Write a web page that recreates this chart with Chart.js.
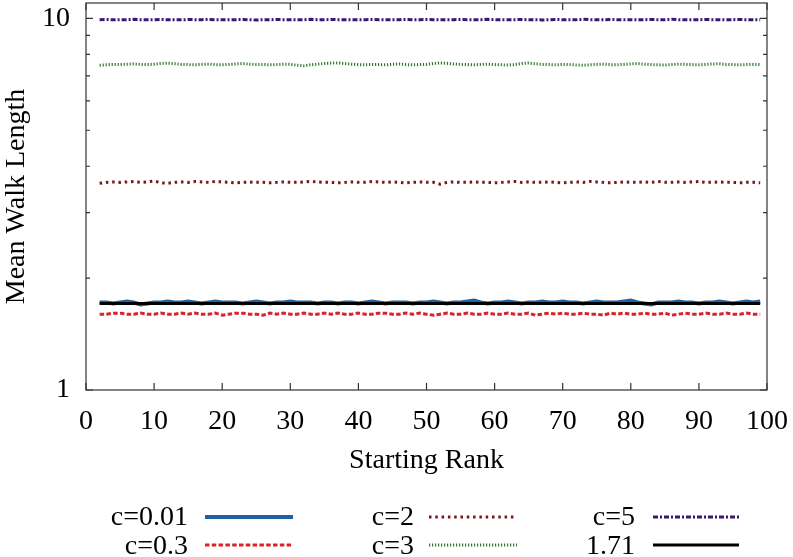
<!DOCTYPE html>
<html lang="en">
<head>
    <meta charset="UTF-8">
    <title>Mean Walk Length</title>
    <script src="https://cdn.jsdelivr.net/npm/chart.js"></script>
    <style>
        body { margin: 0; background: #fff; }
    </style>
</head>
<body>
    <canvas id="myChart" width="793" height="557"></canvas>

    <script>
        // starting ranks (x)
        const ranks = [2,3,4,5,6,7,8,9,10,11,12,13,14,15,16,17,18,19,20,21,
            22,23,24,25,26,27,28,29,30,31,32,33,34,35,36,37,38,39,40,41,
            42,43,44,45,46,47,48,49,50,51,52,53,54,55,56,57,58,59,60,61,
            62,63,64,65,66,67,68,69,70,71,72,73,74,75,76,77,78,79,80,81,
            82,83,84,85,86,87,88,89,90,91,92,93,94,95,96,97,98,99];

        const c001 = [1.72,1.72,1.71,1.72,1.73,1.72,1.70,1.71,1.72,1.72,
            1.73,1.72,1.72,1.73,1.72,1.71,1.72,1.73,1.72,1.72,
            1.72,1.71,1.72,1.73,1.72,1.71,1.72,1.72,1.73,1.72,
            1.72,1.72,1.71,1.72,1.72,1.71,1.72,1.72,1.71,1.72,
            1.73,1.72,1.71,1.72,1.72,1.72,1.71,1.72,1.72,1.73,
            1.72,1.71,1.72,1.72,1.73,1.74,1.72,1.71,1.72,1.72,
            1.73,1.72,1.71,1.72,1.72,1.73,1.72,1.72,1.73,1.72,
            1.72,1.71,1.72,1.73,1.72,1.72,1.72,1.73,1.74,1.72,
            1.71,1.70,1.72,1.72,1.72,1.73,1.72,1.72,1.71,1.72,
            1.72,1.73,1.72,1.71,1.72,1.73,1.72,1.73];

        const c03 = [1.60,1.60,1.61,1.61,1.60,1.60,1.61,1.60,1.60,1.61,
            1.60,1.60,1.61,1.60,1.61,1.60,1.60,1.61,1.59,1.60,
            1.61,1.61,1.60,1.60,1.59,1.61,1.60,1.61,1.60,1.60,
            1.61,1.60,1.60,1.61,1.60,1.61,1.60,1.60,1.61,1.60,
            1.60,1.61,1.61,1.60,1.60,1.61,1.60,1.61,1.60,1.59,
            1.60,1.61,1.60,1.60,1.61,1.60,1.60,1.61,1.60,1.60,
            1.61,1.60,1.60,1.61,1.59,1.60,1.61,1.60,1.61,1.60,
            1.60,1.61,1.60,1.60,1.59,1.61,1.60,1.61,1.60,1.60,
            1.61,1.60,1.60,1.61,1.59,1.60,1.61,1.60,1.60,1.61,
            1.60,1.60,1.61,1.60,1.60,1.61,1.60,1.60];

        const c2 = [3.60,3.62,3.63,3.62,3.63,3.64,3.62,3.63,3.65,3.61,
            3.60,3.62,3.63,3.62,3.64,3.63,3.62,3.64,3.63,3.62,
            3.61,3.62,3.63,3.62,3.62,3.61,3.62,3.63,3.62,3.62,
            3.63,3.64,3.63,3.62,3.62,3.61,3.62,3.63,3.62,3.62,
            3.64,3.63,3.62,3.63,3.62,3.61,3.62,3.63,3.62,3.62,
            3.58,3.62,3.63,3.62,3.62,3.63,3.62,3.62,3.61,3.62,
            3.63,3.64,3.62,3.63,3.62,3.62,3.63,3.62,3.61,3.62,
            3.63,3.62,3.64,3.63,3.62,3.61,3.62,3.63,3.62,3.62,
            3.63,3.62,3.64,3.62,3.62,3.63,3.62,3.63,3.64,3.62,
            3.62,3.63,3.62,3.62,3.61,3.62,3.62,3.61];

        const c3 = [7.48,7.50,7.52,7.51,7.53,7.54,7.52,7.51,7.53,7.56,
            7.58,7.55,7.52,7.51,7.50,7.52,7.53,7.51,7.50,7.52,
            7.54,7.56,7.53,7.51,7.52,7.50,7.51,7.53,7.52,7.48,
            7.46,7.50,7.53,7.56,7.58,7.59,7.56,7.53,7.51,7.50,
            7.52,7.51,7.50,7.52,7.54,7.51,7.50,7.51,7.52,7.56,
            7.59,7.57,7.54,7.52,7.51,7.50,7.52,7.53,7.51,7.50,
            7.49,7.51,7.56,7.58,7.55,7.52,7.51,7.50,7.52,7.51,
            7.49,7.48,7.50,7.52,7.53,7.51,7.50,7.52,7.54,7.56,
            7.53,7.51,7.50,7.49,7.51,7.53,7.52,7.51,7.50,7.52,
            7.54,7.55,7.52,7.51,7.50,7.51,7.52,7.51];

        const c5 = [9.92,9.93,9.91,9.92,9.92,9.94,9.92,9.91,9.92,9.93,
            9.92,9.92,9.91,9.93,9.92,9.92,9.94,9.92,9.91,9.92,
            9.92,9.93,9.92,9.90,9.92,9.92,9.93,9.92,9.92,9.91,
            9.92,9.94,9.92,9.92,9.93,9.92,9.91,9.92,9.92,9.92,
            9.93,9.92,9.92,9.91,9.92,9.94,9.92,9.92,9.93,9.92,
            9.91,9.92,9.92,9.93,9.92,9.92,9.92,9.94,9.92,9.91,
            9.92,9.92,9.93,9.92,9.92,9.90,9.92,9.93,9.92,9.92,
            9.92,9.94,9.92,9.91,9.92,9.93,9.92,9.92,9.92,9.91,
            9.92,9.93,9.92,9.92,9.94,9.92,9.91,9.92,9.92,9.93,
            9.92,9.92,9.91,9.92,9.93,9.92,9.92,9.92];

        const refValue = 1.71;

        const xTicks = [0,10,20,30,40,50,60,70,80,90,100];
        const yMajorTicks = [1,10];
        const yMinorTicks = [2,3,4,5,6,7,8,9];

        const serif = "'Liberation Serif', 'Times New Roman', serif";
        const fontSize = 28;

        function pts(vals) {
            return vals.map((v, i) => ({ x: ranks[i], y: v }));
        }

        const datasets = [
            { label: 'c=0.01', data: pts(c001), borderColor: '#1c63a6', borderWidth: 4, borderDash: [], order: 2 },
            { label: 'c=0.3', data: pts(c03), borderColor: '#d8232a', borderWidth: 3, borderDash: [4.5, 2.3], order: 2 },
            { label: 'c=2', data: pts(c2), borderColor: '#7a1518', borderWidth: 3, borderDash: [2.5, 3.8], order: 2 },
            { label: 'c=3', data: pts(c3), borderColor: '#2d7a2d', borderWidth: 3, borderDash: [1.2, 1.8], order: 2 },
            { label: 'c=5', data: pts(c5), borderColor: '#3d1670', borderWidth: 3, borderDash: [5, 2, 2, 2], order: 2 },
            { label: '1.71', data: [{ x: ranks[0], y: refValue }, { x: ranks[ranks.length - 1], y: refValue }],
              borderColor: '#000000', borderWidth: 3, borderDash: [], order: 0 }
        ];

        // inward ticks + frame, gnuplot style
        const framePlugin = {
            id: 'frame',
            afterDatasetsDraw(chart) {
                const { ctx, chartArea: a, scales } = chart;
                ctx.save();
                ctx.strokeStyle = '#333';
                ctx.lineWidth = 1.2;
                ctx.beginPath();
                xTicks.forEach(v => {
                    const px = scales.x.getPixelForValue(v);
                    ctx.moveTo(px, a.bottom); ctx.lineTo(px, a.bottom - 7);
                    ctx.moveTo(px, a.top); ctx.lineTo(px, a.top + 7);
                });
                yMajorTicks.forEach(v => {
                    const py = scales.y.getPixelForValue(v);
                    ctx.moveTo(a.left, py); ctx.lineTo(a.left + 7, py);
                    ctx.moveTo(a.right, py); ctx.lineTo(a.right - 7, py);
                });
                yMinorTicks.forEach(v => {
                    const py = scales.y.getPixelForValue(v);
                    ctx.moveTo(a.left, py); ctx.lineTo(a.left + 4, py);
                    ctx.moveTo(a.right, py); ctx.lineTo(a.right - 4, py);
                });
                ctx.stroke();
                ctx.strokeRect(a.left, a.top, a.right - a.left, a.bottom - a.top);
                ctx.restore();
            }
        };

        // legend below the plot, 3 columns x 2 rows, text before sample
        const legendCols = [
            { textRight: 188, x0: 205, x1: 293 },
            { textRight: 414, x0: 429, x1: 517 },
            { textRight: 635, x0: 653, x1: 739 }
        ];
        const legendRows = [{ line: 517, text: 518 }, { line: 545, text: 547 }];
        const legendOrder = [[0, 1], [2, 3], [4, 5]];

        const legendPlugin = {
            id: 'bottomLegend',
            afterDraw(chart) {
                const ctx = chart.ctx;
                ctx.save();
                ctx.font = fontSize + 'px ' + serif;
                ctx.textAlign = 'right';
                ctx.textBaseline = 'middle';
                legendOrder.forEach((col, ci) => {
                    col.forEach((di, ri) => {
                        const ds = chart.data.datasets[di];
                        const c = legendCols[ci], r = legendRows[ri];
                        ctx.fillStyle = '#000';
                        ctx.fillText(ds.label, c.textRight, r.text);
                        ctx.strokeStyle = ds.borderColor;
                        ctx.lineWidth = ds.borderWidth;
                        ctx.setLineDash(ds.borderDash);
                        ctx.beginPath();
                        ctx.moveTo(c.x0, r.line);
                        ctx.lineTo(c.x1, r.line);
                        ctx.stroke();
                    });
                });
                ctx.restore();
            }
        };

        const ctx = document.getElementById('myChart').getContext('2d');
        const myChart = new Chart(ctx, {
            type: 'line',
            data: { datasets: datasets },
            options: {
                responsive: false,
                animation: false,
                layout: { padding: { top: 3, right: 26, bottom: 80, left: 0 } },
                elements: {
                    point: { radius: 0 },
                    line: { tension: 0, borderCapStyle: 'butt' }
                },
                plugins: {
                    legend: { display: false },
                    tooltip: { enabled: false }
                },
                scales: {
                    x: {
                        type: 'linear',
                        min: 0,
                        max: 100,
                        afterFit: s => { s.height = 87; s.paddingLeft = 0; s.paddingRight = 0; },
                        grid: { display: false, drawTicks: false },
                        border: { display: false },
                        ticks: {
                            stepSize: 10,
                            padding: 15,
                            color: '#000',
                            maxRotation: 0,
                            font: { family: serif, size: fontSize }
                        },
                        title: {
                            display: true,
                            text: 'Starting Rank',
                            color: '#000',
                            padding: 0,
                            font: { family: serif, size: fontSize }
                        }
                    },
                    y: {
                        type: 'logarithmic',
                        min: 1,
                        max: 11,
                        afterFit: s => { s.width = 86; s.paddingTop = 0; s.paddingBottom = 0; },
                        grid: { display: false, drawTicks: false },
                        border: { display: false },
                        ticks: {
                            padding: 16,
                            color: '#000',
                            font: { family: serif, size: fontSize },
                            callback: v => (yMajorTicks.includes(v) ? String(v) : '')
                        },
                        title: {
                            display: true,
                            text: 'Mean Walk Length',
                            color: '#000',
                            padding: 0,
                            font: { family: serif, size: fontSize }
                        }
                    }
                }
            },
            plugins: [framePlugin, legendPlugin]
        });
    </script>
</body>
</html>
